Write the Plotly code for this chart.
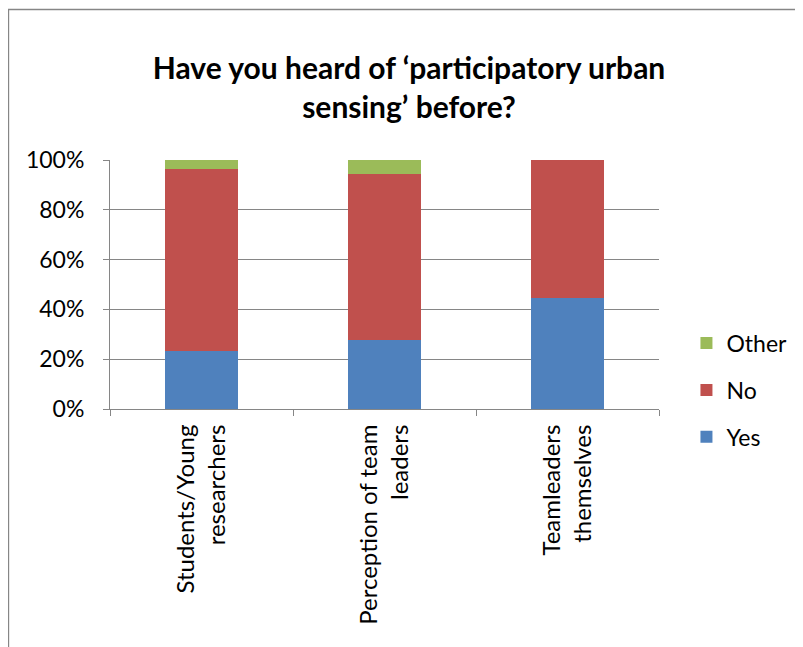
import plotly.graph_objects as go

categories = ["Students/Young<br>researchers", "Perception of team<br>leaders", "Teamleaders<br>themselves"]
yes_vals = [23.1, 27.8, 44.4]
no_vals = [73.1, 66.7, 55.6]
other_vals = [3.8, 5.5, 0.0]
series_names = ["Yes", "No", "Other"]
colors = ["#4F81BD", "#C0504D", "#9BBB59"]
legend_ranks = [3, 2, 1]

FONT = "Lato"
fig = go.Figure()
for i, (name, vals) in enumerate(zip(series_names, [yes_vals, no_vals, other_vals])):
    fig.add_trace(go.Bar(x=categories, y=vals, name=name, marker_color=colors[i],
                         marker_line_width=0, legendgroup=name, width=0.4,
                         legendrank=legend_ranks[i]))

fig.update_layout(
    width=803, height=647,
    barmode="stack",
    paper_bgcolor="white", plot_bgcolor="white",
    margin=dict(l=102, r=152, t=152, b=246, autoexpand=False),
    title=dict(text="<b>Have you heard of ‘participatory urban<br>sensing’ before?</b>",
               x=0.4994, xanchor="center", y=0.89, yanchor="middle",
               font=dict(family=FONT, size=30, color="black")),
    font=dict(family=FONT, size=23, color="black"),
    showlegend=True,
    legend=dict(traceorder="grouped", x=1.05, xanchor="left", y=0.076, yanchor="middle",
                tracegroupgap=14, font=dict(size=23), itemwidth=30),
    bargap=0.6,
)
fig.update_yaxes(range=[0, 100], tickvals=[0, 20, 40, 60, 80, 100],
                 ticktext=["0%", "20%", "40%", "60%", "80%", "100%"],
                 showgrid=True, gridcolor="#868686", gridwidth=1,
                 showline=True, linecolor="#868686", linewidth=1,
                 ticks="outside", ticklen=6, tickcolor="#868686", zeroline=False,
                 ticklabelstandoff=14, tickfont=dict(size=23))
fig.update_xaxes(tickson="boundaries", ticks="outside", ticklen=6, tickcolor="#868686",
                 showline=True, linecolor="#868686", linewidth=1, tickangle=-90,
                 showgrid=False, ticklabelstandoff=5, tickfont=dict(size=24))
fig.add_shape(type="rect", xref="paper", yref="paper",
              x0=-0.185, y0=-1.2, x1=2.0, y1=1.604,
              line=dict(color="#868686", width=1.5))
fig.write_html("out.html")
